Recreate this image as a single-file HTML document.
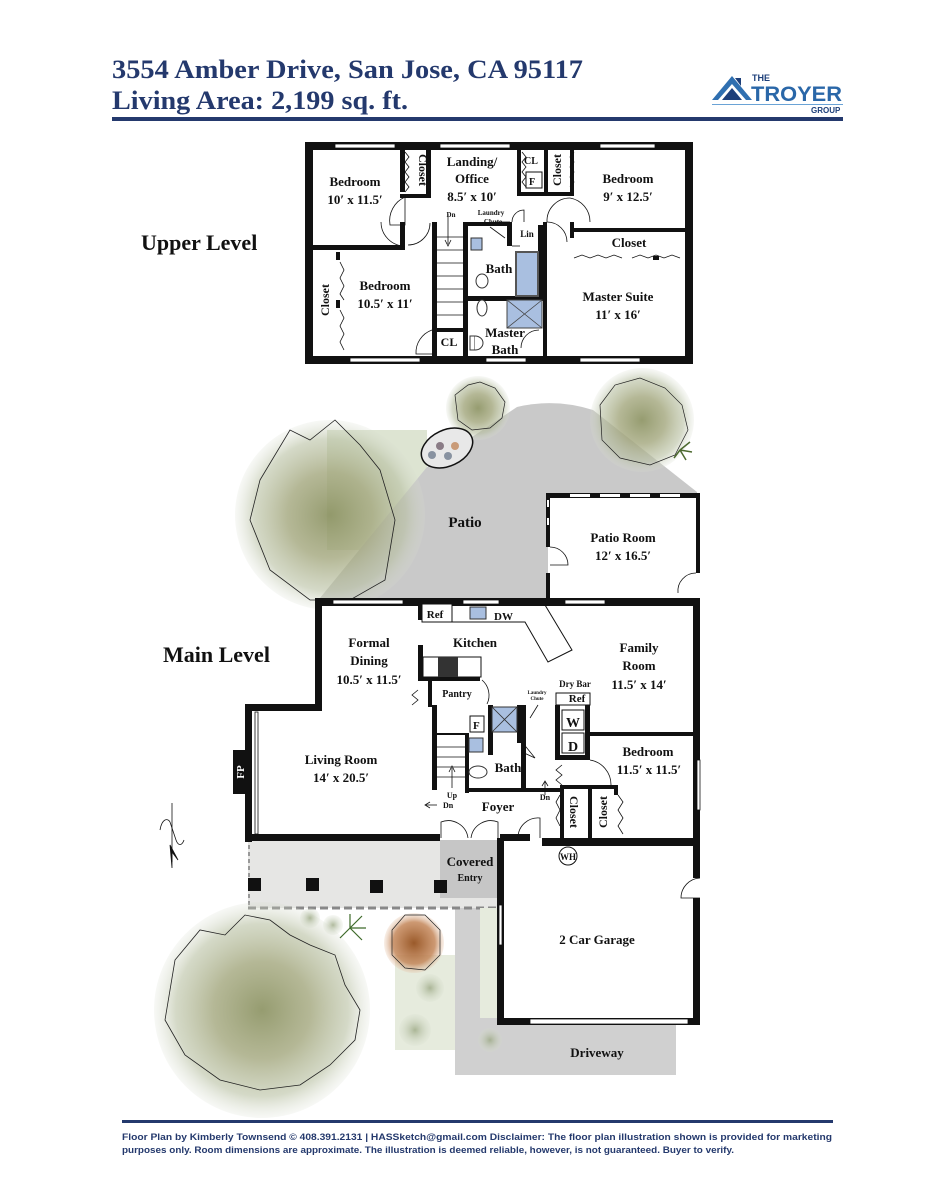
<!DOCTYPE html>
<html><head><meta charset="utf-8"><style>
html,body{margin:0;padding:0;background:#fff;}
svg{display:block;}
.t{font-family:"Liberation Serif",serif;font-weight:bold;fill:#111;}
</style></head><body>
<svg width="938" height="1200" viewBox="0 0 938 1200" xmlns="http://www.w3.org/2000/svg">
<defs>
<radialGradient id="tg" cx="50%" cy="50%" r="50%">
<stop offset="0" stop-color="#8a9160" stop-opacity="0.9"/>
<stop offset="0.45" stop-color="#a2a67c" stop-opacity="0.8"/>
<stop offset="0.8" stop-color="#b8c0a2" stop-opacity="0.6"/>
<stop offset="1" stop-color="#d8ddcf" stop-opacity="0.2"/>
</radialGradient>
<radialGradient id="og" cx="50%" cy="50%" r="50%">
<stop offset="0" stop-color="#9a5a2a"/>
<stop offset="0.7" stop-color="#c4875a" stop-opacity="0.85"/>
<stop offset="1" stop-color="#e8c9b0" stop-opacity="0.3"/>
</radialGradient>
<radialGradient id="sg" cx="50%" cy="50%" r="50%">
<stop offset="0" stop-color="#9ba884" stop-opacity="0.8"/>
<stop offset="1" stop-color="#d5dccb" stop-opacity="0.2"/>
</radialGradient>
</defs>

<text x="112" y="78" class="t" style="fill:#24396d;font-size:26px" textLength="471" lengthAdjust="spacingAndGlyphs">3554 Amber Drive, San Jose, CA 95117</text>
<text x="112" y="109" class="t" style="fill:#24396d;font-size:26px" textLength="296" lengthAdjust="spacingAndGlyphs">Living Area: 2,199 sq. ft.</text>
<rect x="112" y="117" width="731" height="4" fill="#24396d"/>
<polygon points="712,100 732,76 752,100 746,100 732,84 718,100" fill="#2f6fb0"/>
<polygon points="722,100 732,88 742,100" fill="#1d3f7a"/>
<polygon points="735,78 741,78 741,86" fill="#1d3f7a"/>
<text x="752" y="81" font-family="Liberation Sans,sans-serif" font-weight="bold" font-size="9" fill="#1d3f7a">THE</text>
<text x="751" y="101" font-family="Liberation Sans,sans-serif" font-weight="bold" font-size="21" fill="#2a67a8" textLength="91" lengthAdjust="spacingAndGlyphs">TROYER</text>
<rect x="712" y="104" width="131" height="1" fill="#6aa3d6"/>
<text x="811" y="113" font-family="Liberation Sans,sans-serif" font-weight="bold" font-size="8" fill="#1d3f7a">GROUP</text>

<text x="141" y="250" class="t" style="font-size:22px">Upper Level</text>
<g fill="#111">
<rect x="305" y="142" width="388" height="8"/>
<rect x="305" y="356" width="388" height="8"/>
<rect x="305" y="142" width="8" height="222"/>
<rect x="685" y="142" width="8" height="222"/>
<rect x="305" y="245" width="98" height="5"/>
<rect x="400" y="142" width="5" height="50"/>
<rect x="400" y="222" width="5" height="28"/>
<rect x="426" y="142" width="5" height="56"/>
<rect x="400" y="194" width="31" height="4"/>
<rect x="432" y="222" width="5" height="142"/>
<rect x="463" y="222" width="5" height="142"/>
<rect x="463" y="222" width="44" height="4"/>
<rect x="507" y="222" width="5" height="24"/>
<rect x="517" y="142" width="4" height="54"/>
<rect x="517" y="192" width="57" height="4"/>
<rect x="544" y="142" width="4" height="54"/>
<rect x="570" y="142" width="4" height="54"/>
<rect x="570" y="222" width="4" height="16"/>
<rect x="538" y="225" width="5" height="72"/>
<rect x="543" y="222" width="4" height="142"/>
<rect x="570" y="228" width="123" height="4"/>
<rect x="463" y="296" width="84" height="5"/>
<rect x="432" y="328" width="31" height="4"/>
<rect x="336" y="252" width="4" height="8"/>
<rect x="336" y="300" width="4" height="8"/>
<rect x="653" y="256" width="6" height="4"/>
</g>
<g fill="#fff" stroke="#111" stroke-width="0.8">
<rect x="335" y="144" width="60" height="4"/><rect x="440" y="144" width="70" height="4"/><rect x="600" y="144" width="55" height="4"/>
<rect x="350" y="358" width="70" height="4"/><rect x="486" y="358" width="40" height="4"/><rect x="580" y="358" width="60" height="4"/>
</g>
<g fill="none" stroke="#111" stroke-width="0.8">
<polyline points="405,152 409,157 405,162 409,167 405,172 409,177 405,182 409,187 405,192"/>
<polyline points="522,152 526,157 522,162 526,167 522,172 526,177 522,182 526,187"/>
<polyline points="574,152 570,157 574,162 570,167 574,172 570,177 574,182 570,187"/>
<polyline points="340,262 344,270 340,278 344,286 340,294 344,300"/>
<polyline points="340,310 344,318 340,326 344,334 340,342 344,350"/>
<polyline points="574,258 582,255 590,258 598,255 606,258 614,255 622,258"/>
<polyline points="632,258 640,255 648,258 656,255 664,258 672,255 680,258"/>
<path d="M405,197 A26,26 0 0 0 390,225 L405,225 Z"/>
<path d="M381,222 A24,24 0 0 0 405,246"/>
<path d="M430,223 A22,22 0 0 1 408,245"/>
<path d="M547,222 A23,23 0 0 1 570,198"/>
<path d="M570,198 A24,24 0 0 1 590,222"/>
<path d="M547,222 A20,20 0 0 1 567,242"/>
<path d="M512,222 A12,12 0 0 1 524,210 L524,222"/>
<path d="M432,330 A24,24 0 0 0 416,354 L432,354"/>
<path d="M521,348 A18,18 0 0 1 539,330"/>
<path d="M512,246 L520,246"/>
<path d="M495,222 L510,222"/>
<line x1="448" y1="214" x2="448" y2="244"/>
<polyline points="445,240 448,246 451,240"/>
<line x1="468" y1="237" x2="437" y2="237"/><line x1="437" y1="250" x2="463" y2="250"/><line x1="437" y1="263" x2="463" y2="263"/><line x1="437" y1="276" x2="463" y2="276"/><line x1="437" y1="289" x2="463" y2="289"/><line x1="437" y1="302" x2="463" y2="302"/><line x1="437" y1="315" x2="463" y2="315"/>
<line x1="490" y1="227" x2="505" y2="238"/>
</g>
<rect x="526" y="172" width="16" height="16" fill="#fff" stroke="#111"/>
<text x="529" y="185" class="t" style="font-size:10px">F</text>
<rect x="471" y="238" width="11" height="12" fill="#a9bfe0" stroke="#333"/>
<rect x="516" y="252" width="22" height="44" fill="#a9bfe0" stroke="#555" stroke-width="2"/>
<rect x="507" y="300" width="35" height="28" fill="#a9bfe0" stroke="#444"/>
<path d="M507,300 L542,328 M542,300 L507,328" stroke="#444" stroke-width="0.8"/>
<ellipse cx="482" cy="281" rx="6" ry="7" fill="#fff" stroke="#333"/>
<ellipse cx="482" cy="308" rx="5" ry="8" fill="#fff" stroke="#333"/>
<rect x="470" y="336" width="5" height="14" fill="#fff" stroke="#333"/>
<path d="M475,336 A8,7 0 0 1 475,350" fill="#fff" stroke="#333"/>
<g class="t">
<text x="355" y="186" font-size="13" text-anchor="middle">Bedroom</text>
<text x="355" y="204" font-size="13" text-anchor="middle">10′ x 11.5′</text>
<text x="472" y="166" font-size="13" text-anchor="middle">Landing/</text>
<text x="472" y="183" font-size="13" text-anchor="middle">Office</text>
<text x="472" y="201" font-size="13" text-anchor="middle">8.5′ x 10′</text>
<text x="628" y="183" font-size="13" text-anchor="middle">Bedroom</text>
<text x="628" y="201" font-size="13" text-anchor="middle">9′ x 12.5′</text>
<text x="385" y="290" font-size="13" text-anchor="middle">Bedroom</text>
<text x="385" y="308" font-size="13" text-anchor="middle">10.5′ x 11′</text>
<text x="618" y="301" font-size="13" text-anchor="middle">Master Suite</text>
<text x="618" y="319" font-size="13" text-anchor="middle">11′ x 16′</text>
<text x="629" y="247" font-size="13" text-anchor="middle">Closet</text>
<text x="499" y="273" font-size="13" text-anchor="middle">Bath</text>
<text x="505" y="337" font-size="13" text-anchor="middle">Master</text>
<text x="505" y="354" font-size="13" text-anchor="middle">Bath</text>
<text x="449" y="346" font-size="12" text-anchor="middle">CL</text>
<text x="531" y="164" font-size="10" text-anchor="middle">CL</text>
<text x="527" y="237" font-size="9" text-anchor="middle">Lin</text>
<text x="451" y="217" font-size="7" text-anchor="middle">Dn</text>
<text x="491" y="215" font-size="7" text-anchor="middle">Laundry</text>
<text x="493" y="224" font-size="7" text-anchor="middle">Chute</text>
<text transform="translate(419,170) rotate(90)" font-size="12" text-anchor="middle">Closet</text>
<text transform="translate(561,170) rotate(-90)" font-size="12" text-anchor="middle">Closet</text>
<text transform="translate(329,300) rotate(-90)" font-size="12" text-anchor="middle">Closet</text>
</g>

<rect x="327" y="430" width="100" height="120" fill="#dde4d2"/>
<path d="M320,598 L427,467 L517,407 Q555,398 593,410 L697,492 L697,598 Z" fill="#c9c9c9"/>
<circle cx="330" cy="515" r="95" fill="url(#tg)"/>
<path d="M260,480 L290,430 L310,440 L335,420 L360,445 L380,470 L395,520 L385,580 L350,600 L310,600 L270,570 L250,520 Z" fill="none" stroke="#222" stroke-width="0.8"/>
<circle cx="478" cy="408" r="32" fill="url(#tg)"/>
<path d="M455,395 L468,385 L480,382 L495,388 L505,402 L502,418 L490,428 L472,430 L458,420 Z" fill="none" stroke="#222" stroke-width="0.7"/>
<circle cx="642" cy="420" r="52" fill="url(#tg)"/>
<path d="M600,405 L615,385 L640,378 L665,388 L682,405 L688,430 L675,455 L650,465 L620,458 L602,440 Z" fill="none" stroke="#222" stroke-width="0.7"/>
<ellipse cx="447" cy="448" rx="27" ry="18" transform="rotate(-25 447 448)" fill="#e8e8e8" stroke="#111" stroke-width="1.5"/>
<circle cx="440" cy="446" r="4" fill="#8a7c86"/><circle cx="455" cy="446" r="4" fill="#c99b78"/><circle cx="432" cy="455" r="4" fill="#8892a0"/><circle cx="448" cy="456" r="4" fill="#8892a0"/>
<path d="M680,450 l10,-8 m-10,8 l12,2 m-12,-2 l6,10 m-6,-10 l-6,8" stroke="#4d6a30" stroke-width="1.5"/>

<rect x="248" y="840" width="252" height="68" fill="#e6e6e4"/>
<rect x="440" y="840" width="60" height="58" fill="#c6c6c6"/>
<rect x="455" y="908" width="45" height="167" fill="#d0d0d0"/>
<rect x="485" y="1020" width="191" height="55" fill="#d0d0d0"/>
<line x1="248" y1="908" x2="500" y2="908" stroke="#888" stroke-width="3" stroke-dasharray="8,4"/>
<line x1="249" y1="845" x2="249" y2="908" stroke="#999" stroke-width="2" stroke-dasharray="4,3"/>
<rect x="480" y="908" width="20" height="110" fill="#e6ebdd"/>
<rect x="395" y="955" width="60" height="95" fill="#e6ebdd"/>
<circle cx="262" cy="1010" r="108" fill="url(#tg)"/>
<path d="M175,960 L200,930 L225,935 L245,915 L270,920 L290,935 L310,945 L335,955 L345,985 L360,1010 L355,1040 L330,1065 L300,1085 L260,1090 L220,1080 L185,1055 L165,1020 Z" fill="none" stroke="#222" stroke-width="0.8"/>
<circle cx="414" cy="943" r="30" fill="url(#og)"/>
<path d="M392,930 L405,915 L425,915 L440,930 L440,955 L425,970 L405,968 L392,955 Z" fill="none" stroke="#222" stroke-width="0.7"/>
<circle cx="430" cy="988" r="14" fill="url(#sg)"/><circle cx="415" cy="1030" r="16" fill="url(#sg)"/><circle cx="310" cy="918" r="10" fill="url(#sg)"/><circle cx="333" cy="925" r="10" fill="url(#sg)"/><circle cx="490" cy="1040" r="12" fill="url(#sg)"/>
<path d="M350,928 l12,-12 m-12,12 l16,0 m-16,0 l12,12 m-12,-12 l0,-14 m0,14 l-10,10" stroke="#3e6a2a" stroke-width="1.2"/>

<text x="163" y="662" class="t" style="font-size:22px">Main Level</text>
<rect x="318" y="602" width="379" height="236" fill="#fff"/>
<rect x="248" y="706" width="75" height="132" fill="#fff"/>
<rect x="548" y="497" width="149" height="101" fill="#fff"/>
<rect x="500" y="846" width="197" height="176" fill="#fff"/>
<g fill="#111">
<rect x="315" y="598" width="385" height="8"/>
<rect x="315" y="598" width="7" height="112"/>
<rect x="245" y="704" width="77" height="7"/>
<rect x="245" y="704" width="7" height="138"/>
<rect x="245" y="834" width="195" height="7"/>
<rect x="500" y="834" width="30" height="7"/>
<rect x="542" y="838" width="158" height="8"/>
<rect x="693" y="598" width="7" height="244"/>
<rect x="497" y="838" width="7" height="187"/>
<rect x="693" y="838" width="7" height="40"/>
<rect x="693" y="898" width="7" height="127"/>
<rect x="497" y="1018" width="203" height="7"/>
<rect x="233" y="750" width="15" height="44"/>
<rect x="546" y="493" width="154" height="5"/>
<rect x="546" y="493" width="4" height="54"/>
<rect x="546" y="573" width="4" height="28"/>
<rect x="696" y="493" width="4" height="80"/>
<rect x="418" y="602" width="4" height="18"/>
<rect x="418" y="645" width="5" height="35"/>
<rect x="418" y="677" width="62" height="4"/>
<rect x="428" y="677" width="4" height="30"/>
<rect x="432" y="705" width="5" height="85"/>
<rect x="432" y="733" width="35" height="2"/>
<rect x="465" y="733" width="4" height="60"/>
<rect x="465" y="788" width="95" height="4"/>
<rect x="488" y="705" width="5" height="50"/>
<rect x="521" y="705" width="5" height="85"/>
<rect x="517" y="705" width="5" height="38"/>
<rect x="555" y="705" width="5" height="55"/>
<rect x="585" y="705" width="5" height="55"/>
<rect x="555" y="755" width="35" height="5"/>
<rect x="587" y="732" width="110" height="4"/>
<rect x="560" y="785" width="57" height="4"/>
<rect x="560" y="785" width="4" height="53"/>
<rect x="588" y="785" width="4" height="53"/>
<rect x="614" y="785" width="4" height="10"/>
<rect x="248" y="878" width="13" height="13"/><rect x="306" y="878" width="13" height="13"/><rect x="370" y="880" width="13" height="13"/><rect x="434" y="880" width="13" height="13"/>
</g>
<g fill="#fff">
<rect x="547" y="500" width="2" height="7"/><rect x="547" y="518" width="2" height="7"/>
<rect x="570" y="494" width="20" height="3"/><rect x="600" y="494" width="20" height="3"/><rect x="630" y="494" width="20" height="3"/><rect x="660" y="494" width="20" height="3"/>
</g>
<g fill="#fff" stroke="#111" stroke-width="0.8">
<rect x="333" y="600" width="70" height="4"/><rect x="463" y="600" width="36" height="4"/><rect x="565" y="600" width="40" height="4"/>
<rect x="530" y="1019" width="158" height="5"/>
<rect x="255" y="712" width="3" height="122"/>
<rect x="499" y="905" width="3" height="40"/>
<rect x="697" y="760" width="3" height="50"/>
</g>
<rect x="422" y="604" width="30" height="18" fill="#fff" stroke="#111"/>
<polyline points="452,622 525,622 548,662 572,650 545,605" fill="none" stroke="#111" stroke-width="1"/>
<rect x="470" y="607" width="16" height="12" fill="#a9bfe0" stroke="#333"/>
<rect x="423" y="657" width="58" height="20" fill="#fff" stroke="#111"/>
<rect x="438" y="657" width="20" height="20" fill="#333"/>
<rect x="470" y="716" width="14" height="16" fill="#fff" stroke="#111"/>
<text x="473" y="729" class="t" style="font-size:11px">F</text>
<rect x="492" y="707" width="25" height="25" fill="#a9bfe0" stroke="#333"/>
<path d="M492,707 L517,732 M517,707 L492,732" stroke="#333" stroke-width="0.8"/>
<rect x="469" y="738" width="14" height="14" fill="#a9bfe0" stroke="#333"/>
<ellipse cx="478" cy="772" rx="9" ry="6" fill="#fff" stroke="#333"/>
<rect x="556" y="693" width="34" height="12" fill="#fff" stroke="#111"/>
<rect x="562" y="710" width="22" height="20" fill="#fff" stroke="#111"/>
<rect x="562" y="733" width="22" height="20" fill="#fff" stroke="#111"/>
<text x="566" y="727" class="t" style="font-size:14px">W</text>
<text x="568" y="751" class="t" style="font-size:14px">D</text>
<circle cx="568" cy="856" r="9" fill="#fff" stroke="#111"/>
<text x="568" y="860" class="t" style="font-size:9px" text-anchor="middle">WH</text>
<g fill="none" stroke="#111" stroke-width="0.8">
<line x1="437" y1="747" x2="465" y2="747"/><line x1="437" y1="757" x2="465" y2="757"/><line x1="437" y1="767" x2="465" y2="767"/><line x1="437" y1="777" x2="465" y2="777"/>
<line x1="452" y1="788" x2="452" y2="768"/><polyline points="449,772 452,766 455,772"/>
<line x1="426" y1="805" x2="437" y2="805"/><polyline points="430,802 425,805 430,808"/>
<line x1="545" y1="795" x2="545" y2="782"/><polyline points="542,786 545,781 548,786"/>
<path d="M482,680 A20,20 0 0 1 487,704"/>
<path d="M522,752 L535,758 L522,742"/>
<line x1="530" y1="718" x2="538" y2="705"/>
<path d="M590,760 A25,25 0 0 1 611,785"/>
<path d="M441,838 L441,822 A20,20 0 0 1 468,838"/><path d="M498,838 L498,822 A20,20 0 0 0 471,838"/>
<path d="M518,838 A20,20 0 0 1 540,818 L540,838"/>
<path d="M700,878 A20,20 0 0 0 681,898 L700,898"/>
<path d="M550,547 A18,18 0 0 1 568,565 L550,565"/>
<path d="M696,573 A18,18 0 0 0 678,593"/>
<polyline points="418,690 412,695 418,700 412,705"/>
<polyline points="562,765 556,770 562,775 556,780 562,785"/>
<polyline points="618,795 623,802 618,810 623,818 618,826 623,834"/>
<polyline points="560,795 556,802 560,810 556,818 560,826"/>
<line x1="172" y1="803" x2="172" y2="862"/>
<path d="M160,830 C162,818 168,818 170,822 L176,840 C178,846 182,846 184,840"/>
<polygon points="170,845 178,860 172,852 172,868" fill="#111"/>
</g>
<g class="t">
<text x="465" y="527" font-size="15" text-anchor="middle">Patio</text>
<text x="623" y="542" font-size="13" text-anchor="middle">Patio Room</text>
<text x="623" y="560" font-size="13" text-anchor="middle">12′ x 16.5′</text>
<text x="435" y="618" font-size="11" text-anchor="middle">Ref</text>
<text x="494" y="620" font-size="11">DW</text>
<text x="475" y="647" font-size="13" text-anchor="middle">Kitchen</text>
<text x="369" y="647" font-size="13" text-anchor="middle">Formal</text>
<text x="369" y="665" font-size="13" text-anchor="middle">Dining</text>
<text x="369" y="684" font-size="13" text-anchor="middle">10.5′ x 11.5′</text>
<text x="639" y="652" font-size="13" text-anchor="middle">Family</text>
<text x="639" y="670" font-size="13" text-anchor="middle">Room</text>
<text x="639" y="689" font-size="13" text-anchor="middle">11.5′ x 14′</text>
<text x="457" y="697" font-size="10" text-anchor="middle">Pantry</text>
<text x="575" y="687" font-size="9" text-anchor="middle">Dry Bar</text>
<text x="577" y="702" font-size="11" text-anchor="middle">Ref</text>
<text x="537" y="694" font-size="5" text-anchor="middle">Laundry</text>
<text x="537" y="700" font-size="5" text-anchor="middle">Chute</text>
<text x="341" y="764" font-size="13" text-anchor="middle">Living Room</text>
<text x="341" y="782" font-size="13" text-anchor="middle">14′ x 20.5′</text>
<text x="508" y="772" font-size="13" text-anchor="middle">Bath</text>
<text x="648" y="756" font-size="13" text-anchor="middle">Bedroom</text>
<text x="649" y="774" font-size="13" text-anchor="middle">11.5′ x 11.5′</text>
<text x="498" y="811" font-size="13" text-anchor="middle">Foyer</text>
<text x="452" y="798" font-size="8" text-anchor="middle">Up</text>
<text x="443" y="808" font-size="8">Dn</text>
<text x="545" y="800" font-size="8" text-anchor="middle">Dn</text>
<text transform="translate(244,772) rotate(-90)" font-size="11" text-anchor="middle" style="fill:#fff">FP</text>
<text transform="translate(570,812) rotate(90)" font-size="12" text-anchor="middle">Closet</text>
<text transform="translate(607,812) rotate(-90)" font-size="12" text-anchor="middle">Closet</text>
<text x="470" y="866" font-size="13" text-anchor="middle">Covered</text>
<text x="470" y="881" font-size="10" text-anchor="middle">Entry</text>
<text x="597" y="944" font-size="13" text-anchor="middle">2 Car Garage</text>
<text x="597" y="1057" font-size="13" text-anchor="middle">Driveway</text>
</g>

<rect x="122" y="1120" width="711" height="3" fill="#24396d"/>
<text x="122" y="1140" font-family="Liberation Sans Narrow,Liberation Sans,sans-serif" font-weight="bold" font-size="9.5" fill="#24396d" textLength="710" lengthAdjust="spacingAndGlyphs">Floor Plan by Kimberly Townsend ©  408.391.2131   |   HASSketch@gmail.com  Disclaimer: The floor plan illustration shown is provided for marketing</text>
<text x="122" y="1153" font-family="Liberation Sans Narrow,Liberation Sans,sans-serif" font-weight="bold" font-size="9.5" fill="#24396d" textLength="612" lengthAdjust="spacingAndGlyphs">purposes only. Room dimensions are approximate. The illustration is deemed reliable, however, is not guaranteed. Buyer to verify.</text>
</svg>
</body></html>
